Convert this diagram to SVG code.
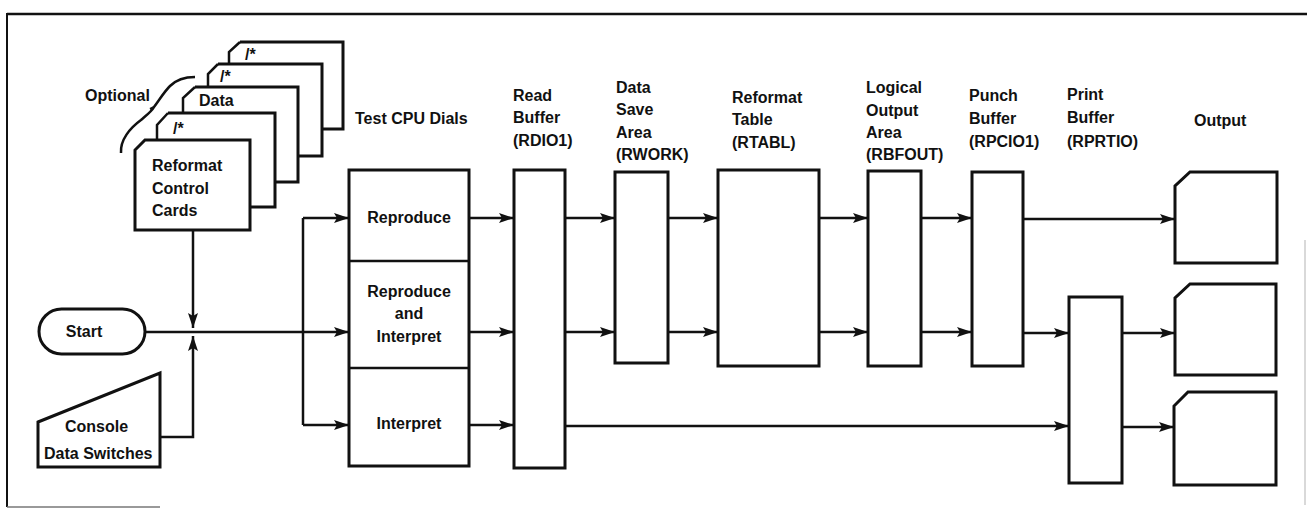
<svg xmlns="http://www.w3.org/2000/svg" width="1307" height="509" viewBox="0 0 1307 509">
<style>
  .box{fill:#fff;stroke:#111;stroke-width:3;stroke-linejoin:miter}
  .ln{fill:none;stroke:#111;stroke-width:2.5}
  .ar{fill:none;stroke:#111;stroke-width:2.5;marker-end:url(#ah)}
  .t{font-family:"Liberation Sans",Arial,sans-serif;font-weight:bold;font-size:16px;fill:#111}
  .c{text-anchor:middle}
</style>
<defs>
  <marker id="ah" markerUnits="userSpaceOnUse" markerWidth="16" markerHeight="12" refX="15" refY="5" orient="auto">
    <path d="M0,0 L15,5 L0,10 L3,5 z" fill="#111"/>
  </marker>
</defs>
<rect width="1307" height="509" fill="#fff"/>

<g id="frame">
  <path d="M7,14 H1307" stroke="#111" stroke-width="2.5" fill="none"/>
  <path d="M7,13 V507" stroke="#111" stroke-width="2" fill="none"/>
  <path d="M7,507 H160" stroke="#777" stroke-width="1.5" fill="none"/>
  <path d="M1305,240 V505" stroke="#ccc" stroke-width="1.5" fill="none"/>
</g>

<g id="cards">
  <path class="box" d="M240,42 H343 V129 H322"/>
  <path class="ln" stroke-width="3" d="M229,64 V52 L240,42"/>
  <path class="box" d="M218,64 H322 V156 H298"/>
  <path class="ln" stroke-width="3" d="M208,87 V74 L218,64"/>
  <path class="box" d="M195,87 H298 V182 H275"/>
  <path class="ln" stroke-width="3" d="M183,113 V98 L195,87"/>
  <path class="box" d="M168,113 H275 V207 H250"/>
  <path class="ln" stroke-width="3" d="M157,140 V125 L168,113"/>
  <path class="box" d="M145,140 H250 V230 H135 V150 Z"/>
  <text class="t" x="245" y="60">/*</text>
  <text class="t" x="220" y="82">/*</text>
  <text class="t" x="199" y="106">Data</text>
  <text class="t" x="173" y="134">/*</text>
  <text class="t" x="152" y="171">Reformat</text>
  <text class="t" x="152" y="194">Control</text>
  <text class="t" x="152" y="216">Cards</text>
</g>

<g id="optional">
  <path d="M121,153 C120,140 130,128 141,120 C148,114 152,111 154,107 C160,99 164,92 170,86 C176,80 184,77 195,77" fill="none" stroke="#111" stroke-width="2.5"/>
  <path d="M154,107 L150,109" stroke="#111" stroke-width="2" fill="none"/>
  <text class="t" x="85" y="101">Optional</text>
</g>

<g id="start">
  <rect class="box" x="39" y="309" width="106" height="45" rx="22.5" ry="22.5"/>
  <text class="t c" x="84" y="337">Start</text>
</g>

<g id="console">
  <path class="box" d="M38,422 L160,373 V467 H38 Z"/>
  <text class="t" x="65" y="432">Console</text>
  <text class="t" x="44" y="459">Data Switches</text>
</g>

<g id="test-cpu-dials">
  <text class="t" x="355" y="124">Test CPU Dials</text>
  <rect class="box" x="349" y="170" width="120" height="296"/>
  <path class="ln" stroke-width="3" d="M349,261 H469 M349,368 H469"/>
  <text class="t c" x="409" y="223">Reproduce</text>
  <text class="t c" x="409" y="297">Reproduce</text>
  <text class="t c" x="409" y="319">and</text>
  <text class="t c" x="409" y="342">Interpret</text>
  <text class="t c" x="409" y="429">Interpret</text>
</g>

<g id="read-buffer">
  <text class="t" x="513" y="101">Read</text>
  <text class="t" x="513" y="123">Buffer</text>
  <text class="t" x="513" y="146">(RDIO1)</text>
  <rect class="box" x="514" y="170" width="51" height="298"/>
</g>

<g id="data-save-area">
  <text class="t" x="616" y="93">Data</text>
  <text class="t" x="616" y="115">Save</text>
  <text class="t" x="616" y="138">Area</text>
  <text class="t" x="616" y="160">(RWORK)</text>
  <rect class="box" x="615" y="172" width="53" height="191"/>
</g>

<g id="reformat-table">
  <text class="t" x="732" y="103">Reformat</text>
  <text class="t" x="732" y="125">Table</text>
  <text class="t" x="732" y="148">(RTABL)</text>
  <rect class="box" x="718" y="170" width="101" height="196"/>
</g>

<g id="logical-output-area">
  <text class="t" x="866" y="93">Logical</text>
  <text class="t" x="866" y="116">Output</text>
  <text class="t" x="866" y="138">Area</text>
  <text class="t" x="866" y="160">(RBFOUT)</text>
  <rect class="box" x="868" y="171" width="53" height="195"/>
</g>

<g id="punch-buffer">
  <text class="t" x="969" y="101">Punch</text>
  <text class="t" x="969" y="124">Buffer</text>
  <text class="t" x="969" y="147">(RPCIO1)</text>
  <rect class="box" x="972" y="172" width="51" height="194"/>
</g>

<g id="print-buffer">
  <text class="t" x="1067" y="100">Print</text>
  <text class="t" x="1067" y="123">Buffer</text>
  <text class="t" x="1067" y="147">(RPRTIO)</text>
  <rect class="box" x="1069" y="297" width="53" height="186"/>
</g>

<g id="output">
  <text class="t" x="1194" y="126">Output</text>
  <path class="box" d="M1190,172 H1277 V263 H1175 V186 Z"/>
  <path class="box" d="M1190,284 H1276 V375 H1175 V298 Z"/>
  <path class="box" d="M1188,392 H1276 V485 H1174 V406 Z"/>
</g>

<g id="connectors">
  <path class="ar" d="M193,230 V328"/>
  <path class="ar" d="M160,437 H193 V336"/>
  <path class="ar" d="M145,332 H349"/>
  <path class="ln" d="M303,218 V425"/>
  <path class="ar" d="M303,218 H349"/>
  <path class="ar" d="M303,425 H349"/>

  <path class="ar" d="M469,218 H514"/>
  <path class="ar" d="M565,218 H615"/>
  <path class="ar" d="M668,218 H718"/>
  <path class="ar" d="M819,218 H868"/>
  <path class="ar" d="M921,218 H972"/>
  <path class="ar" d="M1023,219 H1175"/>

  <path class="ar" d="M469,332 H514"/>
  <path class="ar" d="M565,332 H615"/>
  <path class="ar" d="M668,332 H718"/>
  <path class="ar" d="M819,332 H868"/>
  <path class="ar" d="M921,332 H972"/>
  <path class="ar" d="M1023,333 H1069"/>
  <path class="ar" d="M1122,333 H1175"/>

  <path class="ar" d="M469,425 H514"/>
  <path class="ar" d="M565,426 H1069"/>
  <path class="ar" d="M1122,427 H1174"/>
</g>
</svg>
